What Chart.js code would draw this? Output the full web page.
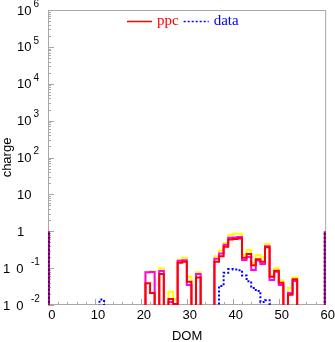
<!DOCTYPE html>
<html><head><meta charset="utf-8">
<script src="https://cdn.jsdelivr.net/npm/chart.js@4.4.1/dist/chart.umd.min.js"></script>
<style>html,body{margin:0;padding:0;background:#fff;}#wrap{width:335px;height:342px;position:relative;}</style>
</head><body><div id="wrap"><canvas id="c" width="335" height="342"></canvas></div>
<script>
// ---- data (DOM bins, width 1) ----
const domBins = [21,22,23,24,25,26,27,28,29,30,31,32,33,34,35,36,37,38,39,40,41,42,43,44,45,46,47,48,49,50,51,52,53];
const ppcRed  = [0.039,0.021,0,0.069,0,0.0145,0.0106,0.14,0.149,0.043,0,0.056,0,0,0,0.15,0.21,0.38,0.60,0.62,0.64,0.19,0.24,0.12,0.173,0.149,0.37,0.058,0.085,0.040,0,0.019,0.050];
const ppcMag  = [0.077,0.079,0,0.083,0,0.012,0.0105,0.158,0.163,0.035,0,0.069,0,0,0,0.18,0.25,0.43,0.67,0.68,0.70,0.166,0.20,0.089,0.16,0.13,0.39,0.048,0.080,0.035,0,0.021,0.045];
const ppcYel  = [0.080,0.082,0,0.100,0,0.023,0.014,0.17,0.19,0.058,0,0.077,0,0,0,0.21,0.30,0.48,0.80,0.85,0.86,0.23,0.31,0.14,0.226,0.196,0.45,0.063,0.100,0.046,0,0.029,0.056];
const dataBins   = [11,37,38,39,40,41,42,43,44,45,46,47];
const dataValues = [0.014,0.033,0.075,0.094,0.092,0.088,0.063,0.044,0.029,0.024,0.012,0.0135];
const edgeDoms   = [0,60];
const edgeValues = [1,1];
const xTickValues = [0,10,20,30,40,50,60];
const yTickExponents = [-2,-1,0,1,2,3,4,5,6];
const legendEntries = [
  {text:'ppc',  color:'#ff0000', dash:[]},
  {text:'data', color:'#0000ff', dash:[2,2]}
];

const FLOOR = 1e-4;
function histPoints(bins, vals){
  const pts=[]; let prevEnd=null;
  bins.forEach((b,i)=>{
    const v = vals[i] > 0 ? vals[i] : FLOOR;
    if (prevEnd === null) pts.push({x:b,y:FLOOR});
    else if (prevEnd !== b){ pts.push({x:prevEnd,y:FLOOR}); pts.push({x:b,y:FLOOR}); }
    pts.push({x:b,y:v}); pts.push({x:b+1,y:v});
    prevEnd = b+1;
  });
  pts.push({x:prevEnd,y:FLOOR});
  return pts;
}
function spikePoints(bins, vals){
  const pts=[];
  bins.forEach((b,i)=>{ pts.push({x:b,y:FLOOR},{x:b,y:vals[i]},{x:b,y:null}); });
  return pts;
}

const GRAY = '#a8a8a8';
const sans = "'Liberation Sans', Arial, sans-serif";
const serif = "'Liberation Serif', 'Times New Roman', serif";

const framePlugin = {
  id:'frame',
  beforeDatasetsDraw(chart){
    const {ctx, chartArea:a, scales:{x, y}} = chart;
    ctx.save();
    ctx.strokeStyle = GRAY; ctx.lineWidth = 1;
    ctx.strokeRect(a.left+0.5, a.top+0.5, a.right-a.left-1, a.bottom-a.top-1);
    ctx.beginPath();
    yTickExponents.forEach(e=>{
      for (let m=1;m<=9;m++){
        const v = m*Math.pow(10,e);
        if (v < y.min*0.999 || v > y.max*1.001) continue;
        const py = Math.round(y.getPixelForValue(v))+0.5;
        const len = m===1 ? 6 : 3;
        ctx.moveTo(a.left, py); ctx.lineTo(a.left+len, py);
      }
    });
    for (let t=0; t<=60; t+=2){
      const px = Math.round(x.getPixelForValue(t))+0.5;
      const len = t%10===0 ? 6 : 3;
      ctx.moveTo(px, a.bottom); ctx.lineTo(px, a.bottom-len);
    }
    ctx.stroke();
    // y labels: 10 with superscript exponent
    ctx.fillStyle = '#000';
    ctx.textBaseline = 'middle';
    ctx.textAlign = 'left';
    yTickExponents.forEach(e=>{
      const py = y.getPixelForValue(Math.pow(10,e));
      const base = e===0 ? '1' : '10';
      ctx.font = '13px ' + sans;
      const bx = e < 0 ? 3 : 17;
      if (e < 0) ctx.letterSpacing = '6px';
      ctx.fillText(base, bx, py+1);
      ctx.letterSpacing = '0px';
      if (e!==0 && e!==1){
        const w = ctx.measureText(base).width;
        ctx.font = '10px ' + sans;
        ctx.fillText(String(e), e<0 ? 31 : bx+w+2, py-6);
      }
    });
    ctx.restore();
  },
  afterDraw(chart){
    const {ctx, chartArea:a} = chart;
    ctx.save();
    ctx.font = '15px ' + serif;
    ctx.textBaseline = 'alphabetic';
    ctx.textAlign = 'left';
    const lineLen = 25, gapText = 5, gapItem = 5;
    let total = 0;
    legendEntries.forEach((it,i)=>{ total += lineLen + gapText + ctx.measureText(it.text).width + (i? gapItem:0); });
    let cx = Math.round((a.left + a.right)/2 - total/2 - 4);
    const ly = a.top + 11.5;
    legendEntries.forEach((it)=>{
      ctx.strokeStyle = it.color; ctx.lineWidth = 1.5; ctx.setLineDash(it.dash);
      ctx.beginPath(); ctx.moveTo(cx, ly); ctx.lineTo(cx+lineLen, ly); ctx.stroke();
      ctx.setLineDash([]);
      cx += lineLen + gapText;
      ctx.fillStyle = it.color;
      ctx.fillText(it.text, cx, ly+3.5);
      cx += ctx.measureText(it.text).width + gapItem;
    });
    ctx.restore();
  }
};

const datasets = [
  {label:'data', data: histPoints(dataBins, dataValues), borderColor:'#0000ff', borderWidth:2, borderDash:[2,2]},
  {label:'data edge', data: spikePoints(edgeDoms, edgeValues), borderColor:'#0000ff', borderWidth:2, borderDash:[2,2]},
  {label:'ppc', data: histPoints(domBins, ppcRed), borderColor:'#ff0000', borderWidth:2},
  {label:'ppc edge', data: spikePoints(edgeDoms, edgeValues), borderColor:'#ff0000', borderWidth:2},
  {label:'ppc mid', data: histPoints(domBins, ppcMag), borderColor:'#ff00ff', borderWidth:2},
  {label:'ppc high', data: histPoints(domBins, ppcYel), borderColor:'#ffff00', borderWidth:2}
];
datasets.forEach(d=>{ d.pointRadius=0; d.fill=false; d.tension=0; d.spanGaps=false; });

new Chart(document.getElementById('c'), {
  type:'line',
  data:{datasets},
  plugins:[framePlugin],
  options:{
    responsive:false, animation:false, maintainAspectRatio:false,
    layout:{padding:{left:0,right:3,top:10,bottom:0}},
    plugins:{ tooltip:{enabled:false}, legend:{display:false} },
    scales:{
      x:{
        type:'linear', min:-0.2, max:60.3,
        afterBuildTicks(s){ s.ticks = xTickValues.map(v=>({value:v})); },
        afterFit(s){ s.height = 37; },
        grid:{display:false, drawTicks:false},
        border:{display:false},
        ticks:{color:'#000', font:{family:sans, size:13}, padding:3, labelOffset:3, maxRotation:0, autoSkip:false},
        title:{display:true, text:'DOM', color:'#000', font:{family:sans, size:13, lineHeight:0.8}, padding:{top:0,bottom:0}}
      },
      y:{
        type:'logarithmic', min:0.01, max:1e6,
        afterBuildTicks(s){ s.ticks = yTickExponents.map(e=>({value:Math.pow(10,e)})); },
        afterFit(s){ s.width = 48; },
        grid:{display:false, drawTicks:false},
        border:{display:false},
        ticks:{display:false},
        title:{display:true, text:'charge', color:'#000', font:{family:sans, size:13}, padding:{top:0,bottom:0}}
      }
    }
  }
});
</script></body></html>
